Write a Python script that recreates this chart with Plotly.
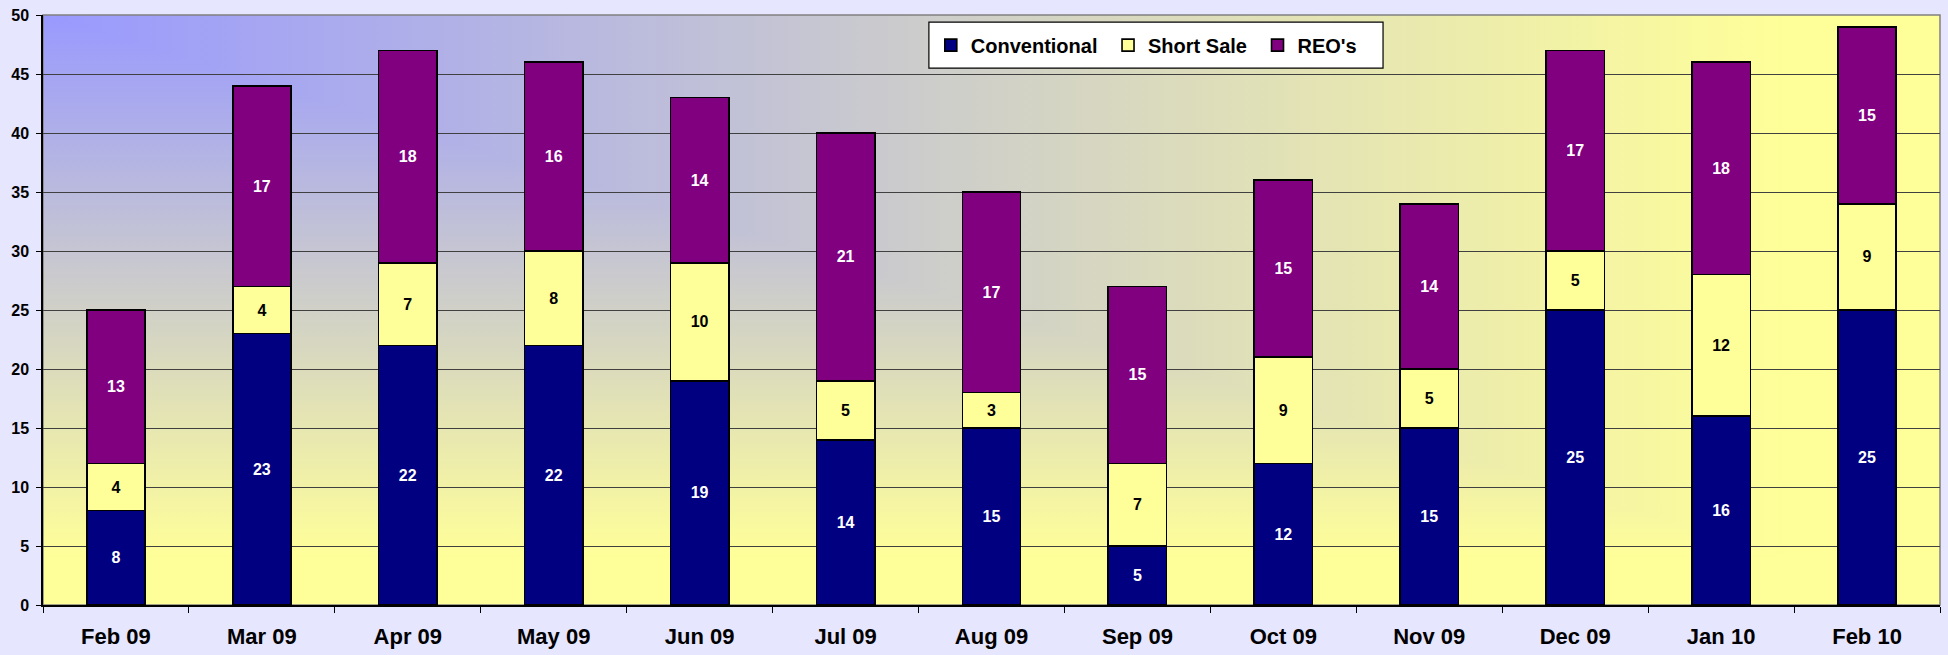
import base64
import plotly.graph_objects as go

months = ["Feb 09", "Mar 09", "Apr 09", "May 09", "Jun 09", "Jul 09", "Aug 09",
          "Sep 09", "Oct 09", "Nov 09", "Dec 09", "Jan 10", "Feb 10"]
conventional = [8, 23, 22, 22, 19, 14, 15, 5, 12, 15, 25, 16, 25]
short_sale = [4, 4, 7, 8, 10, 5, 3, 7, 9, 5, 5, 12, 9]
reos = [13, 17, 18, 16, 14, 21, 17, 15, 15, 14, 17, 18, 15]
y_ticks = list(range(0, 51, 5))

FONT = "Arial, 'Liberation Sans', sans-serif"

# "from corner" gradient background (rectangular bands from the top-left corner)
svg = ("<svg xmlns='http://www.w3.org/2000/svg' width='1000' height='1000' "
       "viewBox='0 0 1000 1000' preserveAspectRatio='none'>"
       "<defs>"
       "<linearGradient id='v' x1='0' y1='0' x2='0' y2='1'>"
       "<stop offset='0' stop-color='#9999FF'/><stop offset='0.92' stop-color='#FFFF99'/>"
       "<stop offset='1' stop-color='#FFFF99'/>"
       "</linearGradient>"
       "<linearGradient id='h' x1='0' y1='0' x2='1' y2='0'>"
       "<stop offset='0' stop-color='#9999FF'/><stop offset='0.92' stop-color='#FFFF99'/>"
       "<stop offset='1' stop-color='#FFFF99'/>"
       "</linearGradient>"
       "</defs>"
       "<rect x='0' y='0' width='1000' height='1000' fill='url(#v)'/>"
       "<polygon points='0,0 1000,0 1000,1000' fill='url(#h)'/>"
       "</svg>")
src = "data:image/svg+xml;base64," + base64.b64encode(svg.encode()).decode()

fig = go.Figure()
series = [("Conventional", conventional, "#000080", "white"),
          ("Short Sale", short_sale, "#FFFF99", "black"),
          ("REO's", reos, "#800080", "white")]
for name, vals, col, tcol in series:
    fig.add_trace(go.Bar(
        x=months, y=vals, name=name + "\u00a0",
        marker=dict(color=col, line=dict(color="black", width=1.6)),
        text=[str(v) for v in vals], textposition="inside",
        insidetextanchor="middle", textangle=0, constraintext="none",
        textfont=dict(color=tcol, size=16, family=FONT, weight="bold"),
        hoverinfo="skip",
    ))

fig.update_layout(
    barmode="stack", bargap=0.6,
    width=1948, height=655,
    margin=dict(l=43, r=8, t=15, b=50, autoexpand=False),
    paper_bgcolor="#E6E6FF", plot_bgcolor="rgba(0,0,0,0)",
    font=dict(family=FONT, color="black"),
    showlegend=True,
    legend=dict(orientation="h", x=0.468, y=0.949, xanchor="left", yanchor="middle",
                bgcolor="rgba(0,0,0,0)", borderwidth=0,
                traceorder="normal", itemwidth=30,
                font=dict(size=20, family=FONT, weight="bold")),
    images=[dict(source=src, xref="paper", yref="paper", x=0, y=1,
                 sizex=1, sizey=1, sizing="stretch", xanchor="left",
                 yanchor="top", layer="below")],
    shapes=[
        dict(type="rect", xref="paper", yref="paper", x0=0, x1=1, y0=0, y1=1,
             line=dict(color="#808080", width=1.5), layer="below"),
        dict(type="rect", xref="paper", yref="paper", x0=0.467, x1=0.7064,
             y0=0.910, y1=0.988, fillcolor="white",
             line=dict(color="black", width=1.2), layer="above"),
    ],
)
fig.update_xaxes(
    automargin=False,
    showline=True, linecolor="black", linewidth=1.5,
    ticks="outside", tickson="boundaries", ticklen=6, tickcolor="black",
    tickfont=dict(size=22, family=FONT, weight="bold"),
    ticklabelstandoff=11, showgrid=False,
)
fig.update_yaxes(
    automargin=False,
    range=[0, 50], tickvals=y_ticks, showline=True, linecolor="black", linewidth=1.5,
    ticks="outside", ticklen=5, tickcolor="black",
    tickfont=dict(size=16, family=FONT, weight="bold"), ticklabelstandoff=4,
    showgrid=True, gridcolor="#404040", gridwidth=1, zeroline=False,
)

fig.write_html("out.html", config={"displayModeBar": False},
               post_script="document.body.style.margin='0';")
